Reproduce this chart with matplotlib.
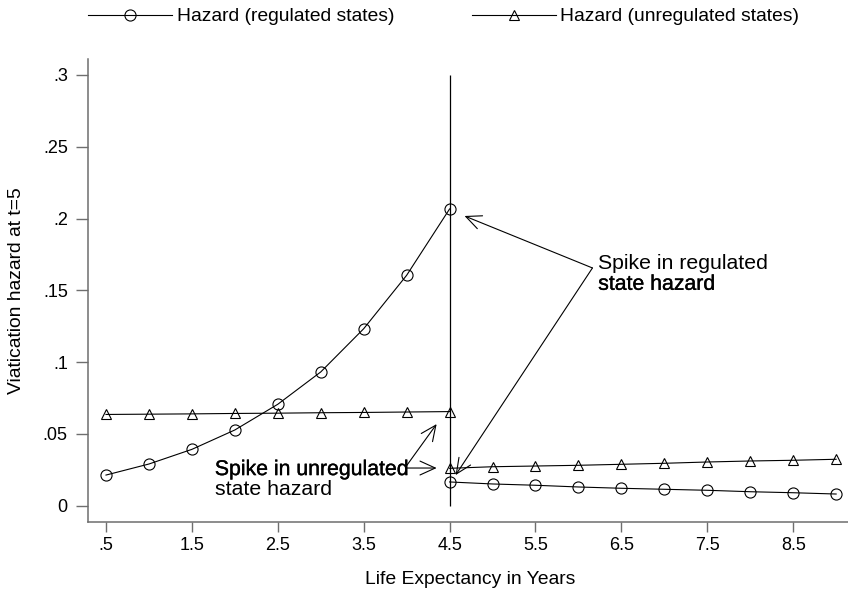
import matplotlib
matplotlib.use("Agg")
import matplotlib.pyplot as plt
import matplotlib.patheffects as pe

plt.rcParams['font.family'] = ['Liberation Sans', 'DejaVu Sans']

# life expectancy grid, before and after the t=4.5 cutoff
life_exp_before = [0.5, 1.0, 1.5, 2.0, 2.5, 3.0, 3.5, 4.0, 4.5]
life_exp_after = [4.5, 5.0, 5.5, 6.0, 6.5, 7.0, 7.5, 8.0, 8.5, 9.0]

reg_before = [0.0214, 0.0291, 0.0393, 0.0528, 0.0707, 0.0932, 0.1233, 0.1605, 0.2067]
unreg_before = [0.0636, 0.0638, 0.0640, 0.0643, 0.0645, 0.0648, 0.0650, 0.0653, 0.0656]
reg_after = [0.0166, 0.0152, 0.0143, 0.0131, 0.0122, 0.0115, 0.0108, 0.0098, 0.0091, 0.0082]
unreg_after = [0.0261, 0.0272, 0.0277, 0.0282, 0.0289, 0.0296, 0.0305, 0.0312, 0.0317, 0.0324]

x_ticks = [0.5, 1.5, 2.5, 3.5, 4.5, 5.5, 6.5, 7.5, 8.5]
x_tick_labels = [".5", "1.5", "2.5", "3.5", "4.5", "5.5", "6.5", "7.5", "8.5"]
y_ticks = [0, 0.05, 0.1, 0.15, 0.2, 0.25, 0.3]
y_tick_labels = ["0", ".05", ".1", ".15", ".2", ".25", ".3"]

W, H = 848, 593
fig = plt.figure(figsize=(W / 100, H / 100), dpi=100)
ax = fig.add_axes([88 / W, (H - 522) / H, 1 - 88 / W, (522 - 59) / H])

circ = dict(color="black", lw=0.8, marker="o", markersize=8,
            markerfacecolor="none", markeredgecolor="black", markeredgewidth=0.8)
tri = dict(color="black", lw=0.8, marker="^", markersize=7.5,
           markerfacecolor="none", markeredgecolor="black", markeredgewidth=0.8)

ax.plot(life_exp_before, reg_before, label="Hazard (regulated states)", **circ)
ax.plot(life_exp_after, reg_after, **circ)
ax.plot(life_exp_before, unreg_before, label="Hazard (unregulated states)", **tri)
ax.plot(life_exp_after, unreg_after, **tri)

# cutoff line
ax.vlines(4.5, 0, 0.3, color="black", lw=0.9)

ax.set_xlim(0.2905, 9.138)
ax.set_ylim(-0.01128, 0.3111)

ax.set_xticks(x_ticks)
ax.set_xticklabels(x_tick_labels)
ax.set_yticks(y_ticks)
ax.set_yticklabels(y_tick_labels)

spine_col = "#6e6e6e"
for s in ["top", "right"]:
    ax.spines[s].set_visible(False)
for s in ["left", "bottom"]:
    ax.spines[s].set_color(spine_col)
    ax.spines[s].set_linewidth(1.1)
ax.tick_params(axis="x", length=7.5, width=1.0, color=spine_col, pad=3.5, labelsize=13)
ax.tick_params(axis="y", length=8.5, width=1.0, color=spine_col, pad=6, labelsize=13)

fig.text(470 / W, 1 - 580 / H, "Life Expectancy in Years", ha="center", va="center", fontsize=13.9)
fig.text(17 / W, 1 - 291 / H, "Viatication hazard at t=5", ha="center", va="center",
         rotation=90, fontsize=13.9)

fig.legend(loc="center left", bbox_to_anchor=(88 / W, 1 - 16.7 / H), ncol=2,
           frameon=False, fontsize=13.9, handlelength=4.35, handletextpad=0.25,
           columnspacing=4.0, borderpad=0, borderaxespad=0, numpoints=1)

# annotations
arrow = dict(arrowstyle="->,head_length=1.1,head_width=0.5", lw=0.8, color="black",
             shrinkA=0, shrinkB=0, mutation_scale=10)
# the overprinted lines look a touch darker in the original
dark = [pe.withStroke(linewidth=0.25, foreground="black")]

ax.annotate("", xy=(4.674, 0.2018), xytext=(6.163, 0.1656), arrowprops=arrow)
ax.annotate("", xy=(4.570, 0.0214), xytext=(6.163, 0.1656), arrowprops=arrow)
ax.text(6.23, 0.1652, "Spike in regulated", fontsize=15.3, va="baseline", ha="left")
ax.text(6.23, 0.1504, "state hazard", fontsize=15.3, va="baseline", ha="left", path_effects=dark)

ax.annotate("", xy=(4.349, 0.0569), xytext=(3.988, 0.0270), arrowprops=arrow)
ax.annotate("", xy=(4.349, 0.0263), xytext=(3.988, 0.0263), arrowprops=arrow)
ax.text(1.767, 0.0214, "Spike in unregulated", fontsize=15.3, va="baseline", ha="left",
        path_effects=dark)
ax.text(1.767, 0.0072, "state hazard", fontsize=15.3, va="baseline", ha="left")

fig.savefig("out.png", dpi=100)
